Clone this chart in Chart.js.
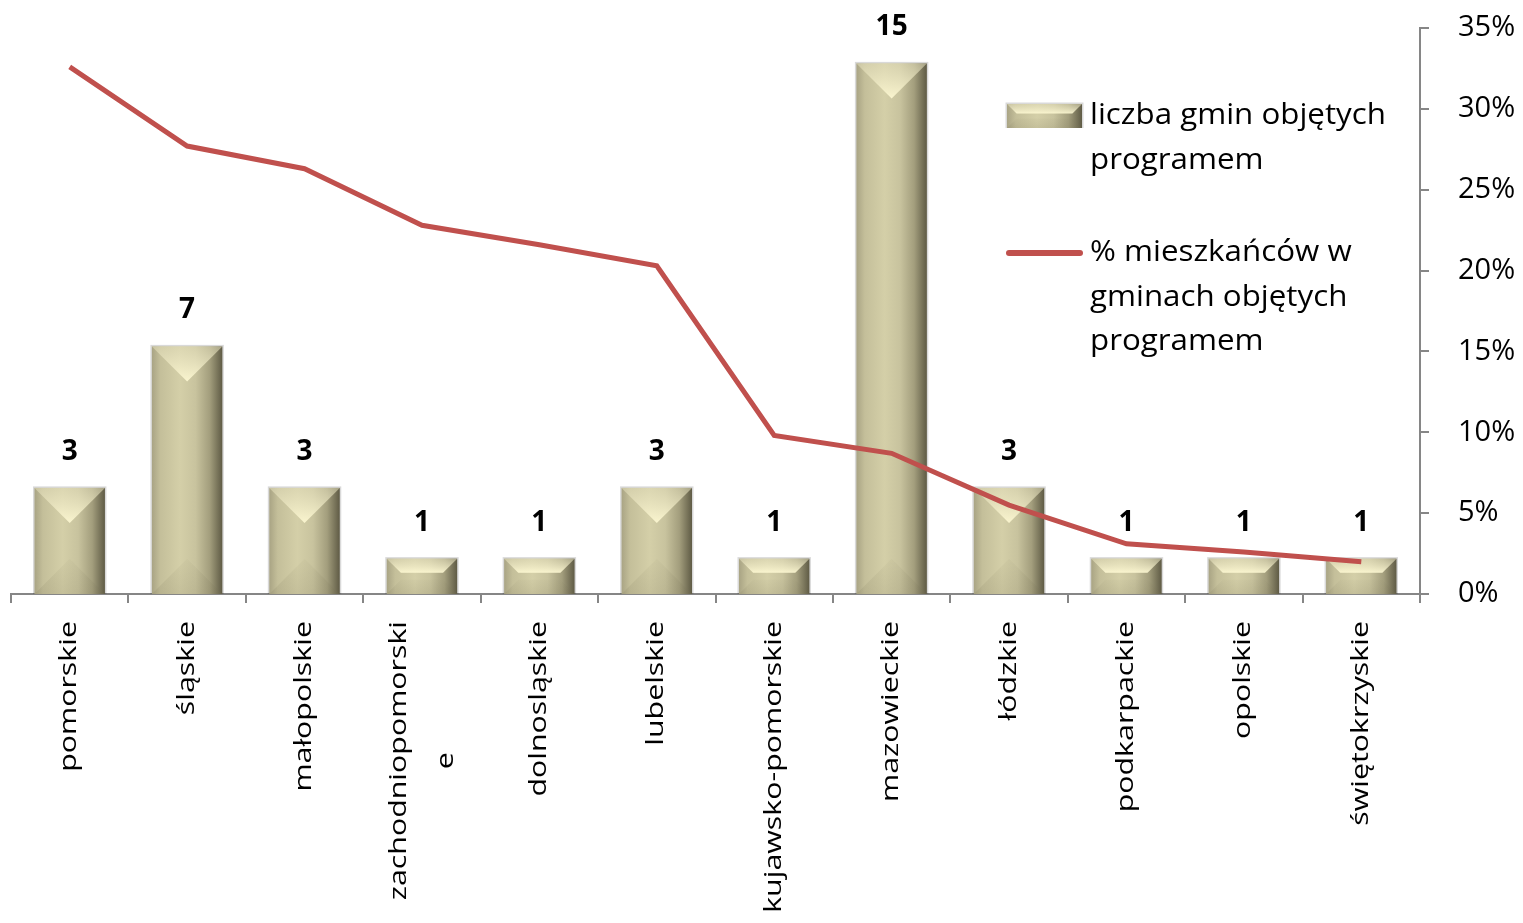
<!DOCTYPE html>
<html>
<head>
<meta charset="utf-8">
<script src="https://cdn.jsdelivr.net/npm/chart.js@4/dist/chart.umd.min.js"></script>
<style>
  html, body { margin: 0; padding: 0; background: #fff; }
  #wrap { width: 1523px; height: 923px; }
</style>
</head>
<body>
<div id="wrap"><canvas id="chart" width="1523" height="923"></canvas></div>
<script>
// data
const regions = [
    'pomorskie', 'śląskie', 'małopolskie', ['zachodniopomorski', 'e'], 'dolnosląskie',
    'lubelskie', 'kujawsko-pomorskie', 'mazowieckie', 'łódzkie', 'podkarpackie',
    'opolskie', 'świętokrzyskie'
];
const gminCount = [3, 7, 3, 1, 1, 3, 1, 15, 3, 1, 1, 1];
const residentsPct = [32.6, 27.7, 26.3, 22.8, 21.6, 20.3, 9.8, 8.7, 5.5, 3.1, 2.6, 2.0];
const pctTicks = [0, 5, 10, 15, 20, 25, 30, 35];
const legendLines = [
    ['liczba gmin objętych', 'programem'],
    ['% mieszkańców w', 'gminach objętych', 'programem']
];

const axisGray = '#868686';
const lineRed = '#c0504d';
const FONT = '"Open Sans", "Noto Sans", sans-serif';

// bevelled khaki bar, like the office "angle" bevel
const drawBevelBar = (ctx, L, T, w, h) => {
    const R = L + w, B = T + h;
    const b = Math.min(w / 2, h / 2.5);
    ctx.save();
    // soft shadow outline
    ctx.fillStyle = 'rgba(0,0,0,0.15)';
    ctx.fillRect(L - 1.5, T - 1.5, w + 3, h + 1.5);

    const g = ctx.createLinearGradient(L, 0, R, 0);
    g.addColorStop(0, '#a9a484');
    g.addColorStop(0.12, '#c4bf9a');
    g.addColorStop(0.4, '#d4cfa8');
    g.addColorStop(0.62, '#c8c39e');
    g.addColorStop(0.82, '#a39e7d');
    g.addColorStop(1, '#5f5b45');
    ctx.fillStyle = g;
    ctx.fillRect(L, T, w, h);

    const poly = (pts, fill) => {
        ctx.beginPath();
        ctx.moveTo(pts[0][0], pts[0][1]);
        for (let i = 1; i < pts.length; i++) ctx.lineTo(pts[i][0], pts[i][1]);
        ctx.closePath();
        ctx.fillStyle = fill;
        ctx.fill();
    };
    // top facet - light cream
    const gt = ctx.createLinearGradient(0, T, 0, T + b);
    gt.addColorStop(0, 'rgba(225,220,185,0.55)');
    gt.addColorStop(1, 'rgba(255,250,212,0.9)');
    poly([[L, T], [R, T], [R - b, T + b], [L + b, T + b]], gt);
    // bottom facet - a touch darker
    const gb = ctx.createLinearGradient(0, B - b, 0, B);
    gb.addColorStop(0, 'rgba(120,115,85,0.04)');
    gb.addColorStop(1, 'rgba(120,115,85,0.16)');
    poly([[L, B], [R, B], [R - b, B - b], [L + b, B - b]], gb);
    ctx.restore();
};

const bevelPlugin = {
    id: 'bevel',
    afterDatasetDraw(chart, args) {
        if (args.index !== 1) return;
        const ctx = chart.ctx;
        args.meta.data.forEach(bar => {
            const w = bar.width;
            drawBevelBar(ctx, bar.x - w / 2, bar.y, w, bar.base - bar.y);
        });
        // value labels above bars
        ctx.save();
        ctx.font = 'bold 28px ' + FONT;
        ctx.fillStyle = '#000';
        ctx.textAlign = 'center';
        ctx.textBaseline = 'middle';
        args.meta.data.forEach((bar, i) => {
            ctx.fillText(String(gminCount[i]), bar.x, bar.y - 36);
        });
        ctx.restore();
    }
};

const labelsPlugin = {
    id: 'catLabels',
    afterDraw(chart) {
        const ctx = chart.ctx;
        const xs = chart.scales.x;
        const top = chart.chartArea.bottom + 27;
        const sx = 1.32;
        ctx.save();
        ctx.font = '23px ' + FONT;
        ctx.fillStyle = '#000';
        ctx.textBaseline = 'middle';
        regions.forEach((lab, i) => {
            const x = xs.getPixelForValue(i);
            const lines = Array.isArray(lab) ? lab : [lab];
            ctx.save();
            ctx.translate(x, top);
            ctx.rotate(-Math.PI / 2);
            ctx.scale(sx, 1);
            if (lines.length === 1) {
                ctx.textAlign = 'right';
                ctx.fillText(lines[0], 0, 0);
            } else {
                const w1 = ctx.measureText(lines[0]).width;
                ctx.textAlign = 'right';
                ctx.fillText(lines[0], 0, -23);
                ctx.textAlign = 'center';
                ctx.fillText(lines[1], -w1 / 2, 24);
            }
            ctx.restore();
        });
        ctx.restore();
    }
};

const legendPlugin = {
    id: 'ownLegend',
    afterDraw(chart) {
        const ctx = chart.ctx;
        const x0 = 1007, sw = 75, tx = 1090, lh = 44.5;
        ctx.save();
        ctx.font = '29px ' + FONT;
        ctx.fillStyle = '#000';
        ctx.textBaseline = 'middle';
        ctx.textAlign = 'left';
        // bar entry
        drawBevelBar(ctx, x0, 104, sw, 24);
        const writeLines = (lines, y) => {
            lines.forEach((t, k) => {
                ctx.save();
                ctx.translate(tx, y + k * lh);
                ctx.scale(1.08, 1);
                ctx.fillStyle = '#000';
                ctx.fillText(t, 0, 0);
                ctx.restore();
            });
        };
        writeLines(legendLines[0], 116);
        // line entry
        ctx.strokeStyle = lineRed;
        ctx.lineWidth = 6;
        ctx.lineCap = 'round';
        ctx.beginPath();
        ctx.moveTo(x0 + 2, 253);
        ctx.lineTo(x0 + sw - 2, 253);
        ctx.stroke();
        writeLines(legendLines[1], 253);
        ctx.restore();
    }
};

const ctx = document.getElementById('chart').getContext('2d');
new Chart(ctx, {
    data: {
        labels: regions,
        datasets: [
            {
                type: 'line',
                label: legendLines[1].join(' '),
                data: residentsPct,
                yAxisID: 'yPct',
                borderColor: lineRed,
                borderWidth: 5,
                pointRadius: 0,
                tension: 0,
                order: 0
            },
            {
                type: 'bar',
                label: legendLines[0].join(' '),
                data: gminCount,
                yAxisID: 'y',
                backgroundColor: 'rgba(0,0,0,0)',
                barPercentage: 0.6,
                categoryPercentage: 1.0,
                order: 1
            }
        ]
    },
    options: {
        responsive: false,
        animation: false,
        layout: { padding: { left: 11, top: 28, right: 0, bottom: 0 } },
        plugins: {
            legend: { display: false },
            tooltip: { enabled: false }
        },
        scales: {
            x: {
                offset: true,
                grid: {
                    offset: true,
                    drawOnChartArea: false,
                    drawTicks: true,
                    tickLength: 9,
                    color: axisGray,
                    lineWidth: 2
                },
                border: { display: true, color: axisGray, width: 2 },
                ticks: { display: false },
                afterFit: s => { s.height = 329; }
            },
            y: {
                display: false,
                min: 0,
                max: 16
            },
            yPct: {
                position: 'right',
                min: 0,
                max: 35,
                afterBuildTicks: s => { s.ticks = pctTicks.map(v => ({ value: v })); },
                grid: {
                    drawOnChartArea: false,
                    drawTicks: true,
                    // long tick length only to push labels out; dash keeps the mark short
                    tickLength: 36,
                    tickBorderDash: [8, 200],
                    color: axisGray,
                    lineWidth: 2
                },
                border: { display: true, color: axisGray, width: 2 },
                ticks: {
                    padding: 2,
                    color: '#000',
                    font: { family: FONT, size: 29 },
                    callback: v => v + '%'
                },
                afterFit: s => { s.width = 103; }
            }
        }
    },
    plugins: [bevelPlugin, labelsPlugin, legendPlugin]
});
</script>
</body>
</html>
